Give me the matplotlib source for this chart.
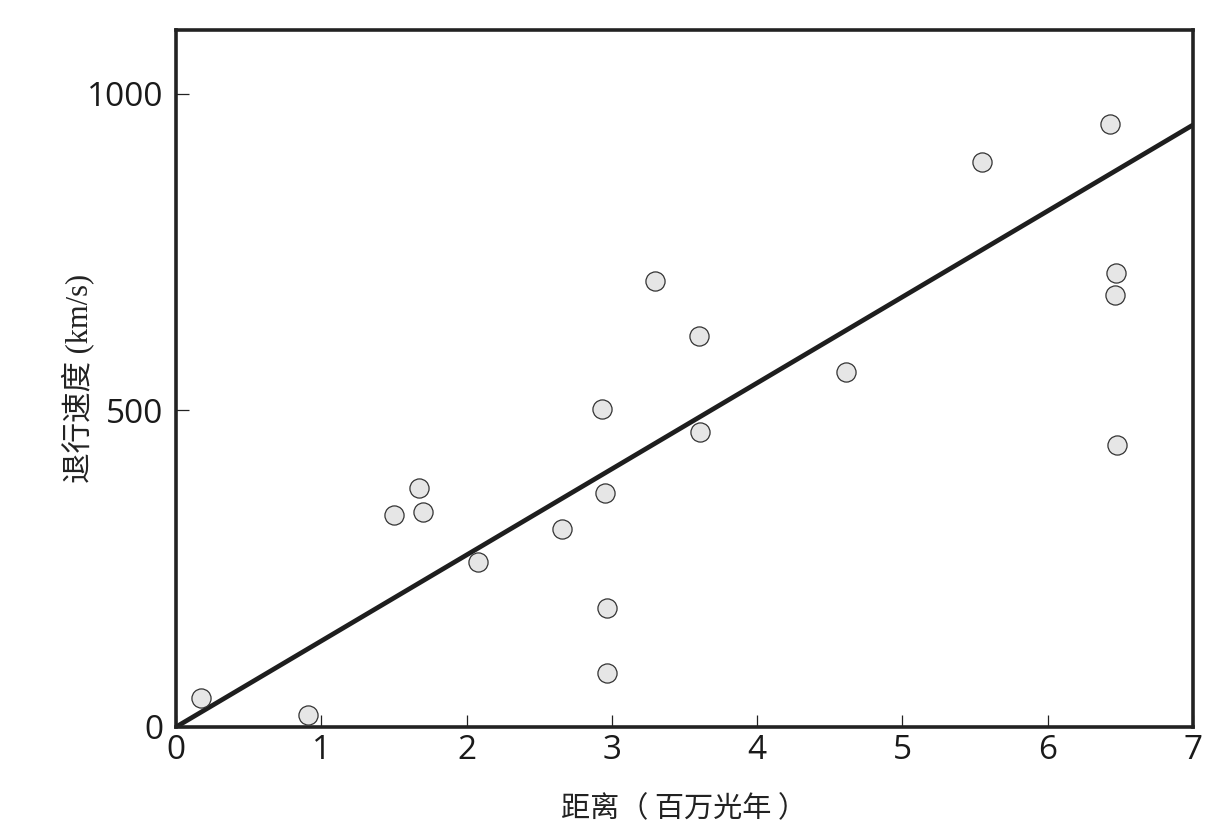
import matplotlib.pyplot as plt

# galaxy distances (million light years) and recession velocities (km/s)
dist = [0.17, 0.91, 1.50, 1.67, 1.70, 2.08, 2.66, 2.93, 2.95, 2.97, 2.97,
        3.30, 3.60, 3.61, 4.61, 5.55, 6.43, 6.47, 6.46, 6.48]
vel = [46, 19, 335, 378, 340, 261, 313, 502, 370, 188, 85,
       705, 618, 466, 561, 893, 953, 717, 682, 445]

# fitted line end points
fit_x = [0, 7]
fit_y = [0, 951]

xticks = [0, 1, 2, 3, 4, 5, 6, 7]
yticks = [0, 500, 1000]

fig = plt.figure(figsize=(12.3, 8.38), dpi=100)
ax = fig.add_axes([0.1431, 0.1325, 0.8268, 0.8317])

ax.plot(fit_x, fit_y, color='#1e1e1e', lw=3.4, solid_capstyle='butt', zorder=2)
ax.scatter(dist, vel, s=190, facecolor='#e6e6e6', edgecolor='#333333',
           linewidths=0.9, zorder=3)

ax.set_xlim(0, 7)
ax.set_ylim(0, 1101)
ax.set_xticks(xticks)
ax.set_yticks(yticks)
ax.set_xticklabels([str(t) for t in xticks], fontsize=24, family='Open Sans',
                   fontweight='medium', color='#1a1a1a')
ax.set_yticklabels([str(t) for t in yticks], fontsize=24, family='Open Sans',
                   fontweight='medium', color='#1a1a1a')
ax.tick_params(direction='in', length=9, width=0.9, color='#222222')
ax.tick_params(axis='x', pad=5)
ax.tick_params(axis='y', pad=9)

for s in ax.spines.values():
    s.set_linewidth(2.6)
    s.set_color('#222222')

ax.set_xlabel('距离（ 百万光年 ）', fontsize=21, family=['Noto Sans CJK SC', 'DejaVu Sans'],
              color='#222222', labelpad=20)
ax.set_ylabel('退行速度 (km/s)', fontsize=22, family=['Liberation Serif', 'Noto Sans CJK SC'],
              color='#222222', labelpad=-5)

fig.savefig('out.png', dpi=100)
